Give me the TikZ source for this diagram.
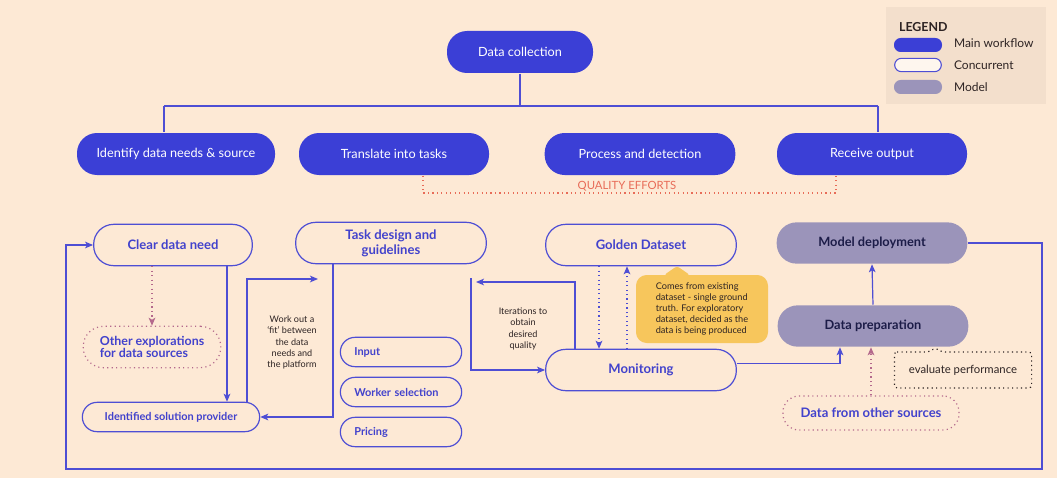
\documentclass[tikz,border=0pt]{standalone}
\usepackage{fontspec}
\setmainfont{Lato}
\usetikzlibrary{arrows.meta}

\definecolor{pagebg}{RGB}{253,233,213}
\definecolor{legbg}{RGB}{243,223,204}
\definecolor{mainblue}{RGB}{59,63,214}
\definecolor{lineblue}{RGB}{78,78,212}
\definecolor{textblue}{RGB}{66,66,204}
\definecolor{modelfill}{RGB}{155,148,186}
\definecolor{modeltext}{RGB}{28,28,72}
\definecolor{qualred}{RGB}{232,108,88}
\definecolor{callfill}{RGB}{247,198,92}
\definecolor{dotpink}{RGB}{180,105,140}
\definecolor{darktext}{RGB}{45,35,35}

\tikzset{every picture/.style={line width=0.9pt}}
\tikzset{
  mainbox/.style={fill=mainblue, text=white, rounded corners=15pt, minimum height=31.5pt, inner sep=2pt, font=\fontsize{9.5}{11}\selectfont},
  concbox/.style={draw=lineblue, text=textblue, rounded corners=15pt, minimum height=31pt, inner sep=2pt, align=center, font=\bfseries\fontsize{9.8}{11.5}\selectfont},
  smallbox/.style={concbox, rounded corners=11pt, minimum height=22pt, font=\bfseries\fontsize{8.2}{9.5}\selectfont},
  modelbox/.style={fill=modelfill, text=modeltext, rounded corners=15pt, minimum height=31pt, inner sep=2pt, font=\bfseries\fontsize{9.6}{11}\selectfont},
  dotbox/.style={concbox, draw=dotpink, dash pattern={on 0.84pt off 2.51pt}},
  flow/.style={draw=lineblue, -{Stealth[length=6pt,width=5pt,inset=1.5pt]}},
  dotflow/.style={flow, dash pattern={on 0.84pt off 2.51pt}},
  tree/.style={draw=lineblue},
  note/.style={text=darktext, align=center, font=\fontsize{6.8}{8.4}\selectfont},
  legtext/.style={anchor=west, text=darktext, font=\fontsize{9}{10}\selectfont},
}

\begin{document}
\begin{tikzpicture}[x=0.75pt,y=0.75pt,yscale=-1,xscale=1]
	\useasboundingbox (0,0) rectangle (1057,478);
	\fill[pagebg] (0,0) rectangle (1057,478);

	%Shape: Legend
	\fill[legbg] (886,7) rectangle (1046,104);
	\node[anchor=west, text=darktext, font=\bfseries\fontsize{9.3}{10}\selectfont] (legtitle) at (894,27) {LEGEND};
	\node[fill=mainblue, rounded corners=5pt, minimum width=36pt, minimum height=10.5pt] (legmain) at (918,45) {};
	\node[draw=lineblue, fill=white!60!pagebg, rounded corners=5pt, minimum width=35pt, minimum height=10pt, line width=0.8pt] (legconc) at (918,65) {};
	\node[fill=modelfill, rounded corners=5pt, minimum width=36pt, minimum height=10.5pt] (legmodel) at (918,87) {};
	\node[legtext] (legmaintxt) at (949,43) {Main workflow};
	\node[legtext] (legconctxt) at (949,65) {Concurrent};
	\node[legtext] (legmodeltxt) at (949,87) {Model};

	%Main workflow
	\node[mainbox, minimum width=109.5pt] (datacol) at (520,52) {Data collection};
	\node[mainbox, minimum width=148.5pt] (identify) at (176,154) {Identify data needs \& source};
	\node[mainbox, minimum width=142.5pt] (translate) at (394,154) {Translate into tasks};
	\node[mainbox, minimum width=143pt] (process) at (640,154) {Process and detection};
	\node[mainbox, minimum width=142.5pt] (receive) at (872,154) {Receive output};

	%Straight Lines: tree
	\coordinate (trl) at (164,106);
	\coordinate (trr) at (878,106);
	\draw[tree] (trl) -- (trr);
	\draw[tree] (datacol.south) -- (datacol.south |- trl);
	\draw[tree] (trl) -- (trl |- identify.north);
	\draw[tree] (trr) -- (trr |- receive.north);

	%Quality efforts
	\coordinate (qa) at (423,193);
	\coordinate (qb) at (836,193);
	\draw[qualred, dash pattern={on 0.84pt off 2.51pt}] (translate.south -| qa) -- (qa) -- (qb) -- (receive.south -| qb);
	\node[text=qualred, font=\fontsize{8.5}{9}\selectfont] (qualtxt) at (627,186) {QUALITY EFFORTS};

	%Concurrent
	\node[concbox, minimum width=119pt] (cleardata) at (173,245) {Clear data need};
	\node[concbox, minimum width=143pt] (taskdesign) at (391,243) {Task design and\\guidelines};
	\node[concbox, minimum width=143pt] (golden) at (641,245) {Golden Dataset};
	\node[concbox, minimum width=143pt] (monitoring) at (641,370) {Monitoring};
	\node[dotbox, minimum width=103pt, align=left, font=\bfseries\fontsize{9.3}{9.5}\selectfont] (otherexp) at (152,347) {Other explorations\\for data sources};
	\node[smallbox, minimum width=133pt] (provider) at (171,417) {Identified solution provider};
	\node[smallbox, minimum width=91pt, text width=70pt, align=left] (input) at (401,352) {Input};
	\node[smallbox, minimum width=91pt, text width=70pt, align=left] (worker) at (401,392) {Worker selection};
	\node[smallbox, minimum width=91pt, text width=70pt, align=left] (pricing) at (401,432) {Pricing};
	\node[dotbox, rounded corners=12pt, minimum width=132pt, minimum height=25.5pt] (othersrc) at (871,413) {Data from other sources};

	%Model
	\node[modelbox, minimum width=143pt] (deploy) at (872,243) {Model deployment};
	\node[modelbox, minimum width=143pt] (dataprep) at (873,326) {Data preparation};

	%Callout
	\node[fill=callfill, rounded corners=8pt, minimum width=99pt, minimum height=51pt, align=left, text=darktext, font=\fontsize{6.9}{8.4}\selectfont] (callout) at (702,309) {Comes from existing\\dataset - single ground\\truth. For exploratory\\dataset, decided as the\\data is being produced};
	\fill[callfill, rounded corners=2pt] ([xshift=-28.5pt,yshift=0.5pt]callout.north) -- ++(13,-9) -- ++(13,9) -- cycle;

	%evaluate performance
	\node[text=darktext, minimum width=102pt, minimum height=26pt, font=\fontsize{8.5}{9}\selectfont] (evalperf) at (963,370) {evaluate performance};
	\draw[darktext, dash pattern={on 0.84pt off 2.51pt}, rounded corners=2pt] (evalperf.north west) -- ([xshift=-26pt]evalperf.north) -- ++(7,-4) -- ++(7,4) -- (evalperf.north east) -- (evalperf.south east) -- (evalperf.south west) -- cycle;

	%Connectors
	\coordinate (xa) at (227,0);
	\coordinate (xb) at (152,0);
	\coordinate (xc) at (247,0);
	\coordinate (xd) at (333,0);
	\coordinate (fitin) at (318,279);
	\draw[flow] (cleardata.south -| xa) -- (provider.north -| xa);
	\draw[dotflow, dotpink] (cleardata.south -| xb) -- (otherexp.north -| xb);
	\draw[flow] (provider.north -| xc) |- (fitin);
	\draw[flow] (taskdesign.south -| xd) |- (provider.east);
	\node[note, anchor=north] (fittxt) at (292,311) {Work out a\\`fit' between\\the data\\needs and\\the platform};

	\coordinate (xi) at (575,0);
	\coordinate (iterin) at (476,282);
	\coordinate (iterout) at (471,278);
	\draw[flow] (monitoring.north -| xi) |- (iterin);
	\draw[flow] (iterout) |- (monitoring.west);
	\node[note, anchor=north] (itertxt) at (523,303) {Iterations to\\obtain\\desired\\quality};

	\coordinate (xg1) at (599,0);
	\coordinate (xg2) at (627,0);
	\draw[dotflow] (golden.south -| xg1) -- (monitoring.north -| xg1);
	\draw[dotflow] (monitoring.north -| xg2) -- (golden.south -| xg2);

	\coordinate (xp) at (840,0);
	\draw[flow] ([yshift=-5pt]monitoring.east) -| (dataprep.south -| xp);
	\draw[dotflow, dotpink] (othersrc.north) -- (othersrc.north |- dataprep.south);
	\draw[flow] (dataprep.north) -- (deploy.south);

	\coordinate (loopr) at (1042,469);
	\coordinate (loopl) at (66,469);
	\draw[flow] (deploy.east) -| (loopr) -- (loopl) |- (cleardata.west);

\end{tikzpicture}
\end{document}
